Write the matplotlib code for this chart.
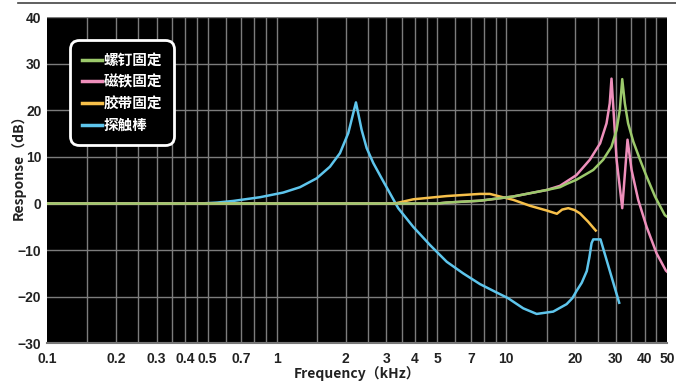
import matplotlib
matplotlib.use("Agg")
import matplotlib.pyplot as plt
from matplotlib.lines import Line2D

# frequency (kHz) / response (dB)
screw_f = [0.1, 5.0, 5.5, 7.68, 10.7, 14.98, 17.12, 18.3, 20.2, 23.9, 26.4, 28.7, 30.2, 31.2, 31.96,
           32.8, 33.9, 35.7, 38.2, 40.8, 44.4, 49.0, 50.0]
screw_db = [0, 0, 0.2, 0.6, 1.5, 2.9, 3.5, 4.2, 5.1, 7.2, 9.4, 12.2, 15.8, 20.1, 26.7,
            21.5, 17.2, 13.3, 9.4, 5.8, 1.5, -2.5, -2.8]

magnet_f = [0.1, 5.0, 5.5, 7.68, 10.7, 14.98, 17.12, 20.2, 23.1, 25.6, 27.3, 28.2, 28.7,
            30.2, 31.96, 33.7, 35.1, 37.5, 40.8, 45.1, 49.5, 50.0]
magnet_db = [0, 0, 0.2, 0.6, 1.5, 2.9, 3.8, 6.1, 9.4, 12.9, 17.2, 21.5, 26.8,
             9.4, -1.0, 13.7, 7.2, 0.8, -5.0, -10.7, -14.4, -14.6]

tape_f = [0.1, 3.27, 3.93, 5.5, 7.68, 8.48, 9.38, 10.7, 12.7, 14.98, 16.6, 17.5, 18.6, 19.8, 20.9,
          22.7, 24.5]
tape_db = [0, 0, 0.9, 1.6, 2.06, 2.06, 1.5, 0.8, -0.5, -1.5, -2.2, -1.3, -1.0, -1.4, -2.1,
           -3.9, -5.8]

probe_f = [0.1, 0.464, 0.55, 0.647, 0.846, 1.068, 1.263, 1.493, 1.706, 1.886, 2.05, 2.214,
           2.344, 2.465, 2.634, 2.865, 3.113, 3.383, 3.93, 4.65, 5.5, 6.49, 7.68, 9.07, 10.16,
           11.85, 13.55, 16.0, 18.3, 19.4, 20.2, 21.3, 22.4, 23.0, 23.5, 23.9, 25.7, 31.0]
probe_db = [0, 0, 0.2, 0.55, 1.35, 2.35, 3.5, 5.4, 7.9, 10.8, 15.1, 21.7,
            15.8, 11.9, 8.7, 5.4, 2.2, -1.0, -5.0, -8.9, -12.5, -15.0, -17.3, -19.1, -20.3,
            -22.5, -23.7, -23.2, -21.6, -20.3, -18.8, -17.0, -14.5, -11.5, -8.5, -7.7, -7.7, -21.3]

labels = ["螺钉固定", "磁铁固定", "胶带固定", "探触棒"]
colors = ["#9cc96b", "#ee8fbb", "#f7c04a", "#5ec5ec"]

tick_vals = [0.1, 0.2, 0.3, 0.4, 0.5, 0.7, 1, 2, 3, 4, 5, 7, 10, 20, 30, 40, 50]
tick_text = ["0.1", "0.2", "0.3", "0.4", "0.5", "0.7", "1", "2", "3", "4", "5", "7", "10", "20", "30", "40", "50"]
grid_x = [0.15, 0.2, 0.25, 0.3, 0.35, 0.4, 0.45, 0.5, 0.6, 0.7, 0.8, 0.9,
          1, 1.5, 2, 2.5, 3, 3.5, 4, 4.5, 5, 6, 7, 8, 9,
          10, 15, 20, 25, 30, 35, 40, 45]

cjk = ["Noto Sans CJK SC", "DejaVu Sans"]

fig = plt.figure(figsize=(6.76, 3.81), dpi=100)
ax = fig.add_axes([0.0695, 0.099, 0.917, 0.856])
ax.set_facecolor("black")
ax.set_xscale("log")
ax.set_xlim(0.1, 50)
ax.set_ylim(-30, 40)

for g in grid_x:
    ax.axvline(g, color="#7c7c7c", lw=1.0, zorder=1)
for g in range(-20, 41, 10):
    ax.axhline(g, color="#7c7c7c", lw=1.0, zorder=1)

ax.plot(probe_f, probe_db, color=colors[3], lw=1.8, zorder=3)
ax.plot(tape_f, tape_db, color=colors[2], lw=1.8, zorder=4)
ax.plot(magnet_f, magnet_db, color=colors[1], lw=1.8, zorder=5)
ax.plot(screw_f, screw_db, color=colors[0], lw=1.8, zorder=6)

ax.set_xticks(tick_vals)
ax.set_xticklabels(tick_text)
ax.xaxis.set_minor_locator(matplotlib.ticker.NullLocator())
ax.set_yticks(range(-30, 41, 10))
ax.tick_params(length=0, labelsize=10, colors="#222222")
ax.tick_params(axis="x", pad=6)
ax.tick_params(axis="y", pad=4)
for t in ax.get_xticklabels() + ax.get_yticklabels():
    t.set_family(["Liberation Sans"])
    t.set_fontweight("bold")

for s in ["top", "right", "left"]:
    ax.spines[s].set_visible(False)
ax.spines["bottom"].set_color("#777777")
ax.spines["bottom"].set_linewidth(1.5)

ax.set_xlabel("Frequency（kHz）", family=cjk, fontsize=10, fontweight="bold", color="#222222", labelpad=0)
ax.set_ylabel("Response（dB）", family=cjk, fontsize=10, fontweight="bold", color="#222222")
ax.yaxis.set_label_coords(-0.034, 0.55)

handles = [Line2D([], [], color=c, lw=2.5) for c in colors]
leg = ax.legend(handles, labels, loc="upper left", bbox_to_anchor=(0.037, 0.93), borderaxespad=0,
                prop={"family": cjk, "size": 10.5, "weight": "bold"}, labelcolor="white",
                facecolor="black", edgecolor="white", framealpha=1, fancybox=True,
                handlelength=1.4, handletextpad=0.1, labelspacing=0.4, borderpad=0.8)
leg.get_frame().set_linewidth(2)
leg.get_frame().set_boxstyle("round,pad=0,rounding_size=0.6")
leg.set_zorder(10)

fig.add_artist(Line2D([0.027, 1.0], [0.992, 0.992], color="#444444", lw=1.2))

fig.savefig("out.png", dpi=100)
